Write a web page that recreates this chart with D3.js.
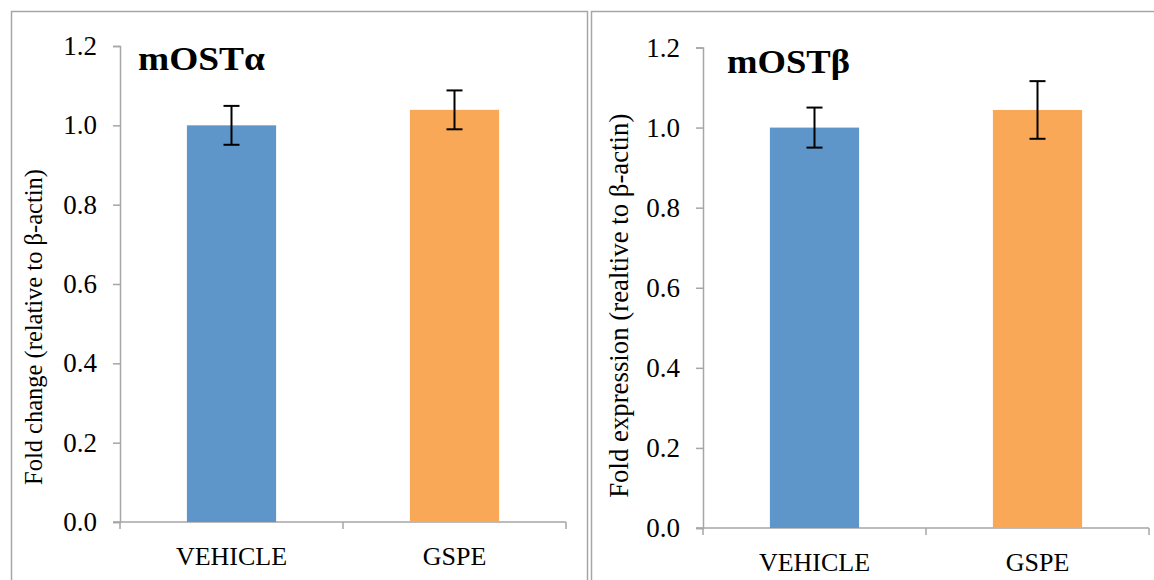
<!DOCTYPE html>
<html>
<head>
<meta charset="utf-8">
<script src="https://cdn.jsdelivr.net/npm/d3@7"></script>
<style>
  body { margin: 0; background: #fff; }
  svg text { font-family: "Liberation Serif", "Times New Roman", "DejaVu Serif", serif; }
</style>
</head>
<body>
<div id="chart"></div>
<script>
// data
var categories = ["VEHICLE", "GSPE"];
var alphaValues = [1.0, 1.039];
var alphaErrors = [0.049, 0.049];
var betaValues = [1.0, 1.044];
var betaErrors = [0.05, 0.072];
var yTicks = [0, 0.2, 0.4, 0.6, 0.8, 1.0, 1.2];
var colors = ["#5f96c9", "#f9a857"];

var serif = "'Liberation Serif', 'Times New Roman', serif"

var svg = d3.select("#chart").append("svg")
    .attr("width", 1154)
    .attr("height", 580)

var frame = "#a6a6a6"

// panel frames
svg.append("path")
    .attr("d", "M11.5,580 V11.5 H587.5 V580")
    .attr("fill", "none").attr("stroke", frame).attr("stroke-width", 1.5)
svg.append("path")
    .attr("d", "M591.5,580 V11.5 H1154")
    .attr("fill", "none").attr("stroke", frame).attr("stroke-width", 1.5)

function panel(opts) {
    var g = svg.append("g")

    var y = d3.scaleLinear()
        .domain([0, 1.2])
        .range([opts.bottom, opts.top]);

    var x = d3.scaleBand()
        .domain(categories)
        .range([opts.left, opts.right])
        .padding(0)

    //y-axis
    var yAxis = g.append("g")
        .attr("transform", "translate(" + opts.left + ",0)")
        .call(d3.axisLeft(y).tickValues(yTicks).tickFormat(d3.format(".1f")).tickSizeOuter(0).tickSize(7))
    yAxis.attr("font-family", null)
    yAxis.select(".domain").attr("stroke", frame).attr("stroke-width", 1.5)
    yAxis.selectAll(".tick line").attr("stroke", frame).attr("stroke-width", 1.5)
    yAxis.selectAll("text")
        .attr("x", -23)
        .style("font-size", "27px")
        .style("font-family", serif)
        .attr("fill", "#000")

    //x-axis, ticks between categories
    var xg = g.append("g")
    xg.append("line")
        .attr("x1", opts.left - 7).attr("x2", opts.right)
        .attr("y1", y(0)).attr("y2", y(0))
        .attr("stroke", frame).attr("stroke-width", 1.5)
    var bounds = [opts.left].concat(categories.map(function (c) { return x(c) + x.bandwidth(); }))
    xg.selectAll(".xt").data(bounds).enter().append("line")
        .attr("x1", function (d) { return d; }).attr("x2", function (d) { return d; })
        .attr("y1", y(0)).attr("y2", y(0) + 7)
        .attr("stroke", frame).attr("stroke-width", 1.5)
    xg.selectAll(".xl").data(categories).enter().append("text")
        .attr("x", function (d) { return x(d) + x.bandwidth() / 2; })
        .attr("y", y(0) + 43)
        .attr("text-anchor", "middle")
        .style("font-size", "26px")
        .style("font-family", serif)
        .text(function (d) { return d; })

    var bw = x.bandwidth() * 0.4
    var rows = categories.map(function (c, i) {
        return { cat: c, v: opts.values[i], e: opts.errors[i], color: colors[i] };
    })

    g.selectAll(".bar").data(rows).enter().append("rect")
        .attr("x", function (d) { return x(d.cat) + (x.bandwidth() - bw) / 2; })
        .attr("width", bw)
        .attr("y", function (d) { return y(d.v); })
        .attr("height", function (d) { return y(0) - y(d.v); })
        .attr("fill", function (d) { return d.color; })

    // error bars
    var eb = g.selectAll(".err").data(rows).enter().append("g")
        .attr("stroke", "#000").attr("stroke-width", 2)
    eb.append("line")
        .attr("x1", function (d) { return x(d.cat) + x.bandwidth() / 2; })
        .attr("x2", function (d) { return x(d.cat) + x.bandwidth() / 2; })
        .attr("y1", function (d) { return y(d.v + d.e); })
        .attr("y2", function (d) { return y(d.v - d.e); })
    eb.selectAll(".cap").data(function (d) { return [d.v + d.e, d.v - d.e].map(function (v) { return { cat: d.cat, v: v }; }); })
        .enter().append("line")
        .attr("x1", function (d) { return x(d.cat) + x.bandwidth() / 2 - 8; })
        .attr("x2", function (d) { return x(d.cat) + x.bandwidth() / 2 + 8; })
        .attr("y1", function (d) { return y(d.v); })
        .attr("y2", function (d) { return y(d.v); })

    g.append("text")
        .attr("x", opts.titleX).attr("y", opts.titleY)
        .attr("textLength", opts.titleW).attr("lengthAdjust", "spacingAndGlyphs")
        .style("font-size", "34px").style("font-weight", "bold")
        .style("font-family", serif)
        .text(opts.title)

    g.append("text")
        .attr("transform", "translate(" + opts.labelX + "," + ((opts.top + opts.bottom) / 2 + opts.labelShift) + ") rotate(-90)")
        .attr("text-anchor", "middle")
        .style("font-size", opts.labelSize + "px")
        .style("font-family", serif)
        .text(opts.label)
}

panel({ left: 120, right: 566, top: 46, bottom: 522, values: alphaValues, errors: alphaErrors,
    title: "mOSTα", titleX: 138, titleY: 70, titleW: 127, label: "Fold change (relative to β-actin)",
    labelX: 42, labelShift: 43, labelSize: 24.5 })
panel({ left: 703, right: 1149, top: 47.5, bottom: 528, values: betaValues, errors: betaErrors,
    title: "mOSTβ", titleX: 727, titleY: 73, titleW: 123, label: "Fold expression (realtive to β-actin)",
    labelX: 628, labelShift: 18, labelSize: 26.8 })
</script>
</body>
</html>
